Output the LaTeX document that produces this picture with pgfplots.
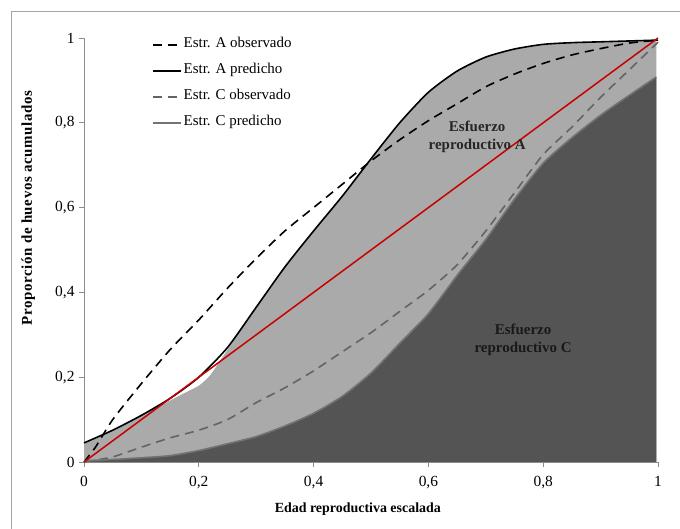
\documentclass[border=0pt]{standalone}
\usepackage{fontspec}
\setmainfont{Liberation Serif}
\newfontfamily\spacedserif[LetterSpace=4]{Liberation Serif}
\usepackage{pgfplots}
\pgfplotsset{compat=1.18}

\definecolor{areaA}{RGB}{170,170,170}
\definecolor{areaC}{RGB}{84,84,84}
\definecolor{lineC}{RGB}{115,115,115}
\definecolor{dashC}{RGB}{100,100,100}
\definecolor{diag}{RGB}{200,0,0}
\definecolor{framegray}{RGB}{165,165,165}
\definecolor{axisgray}{RGB}{140,140,140}

\begin{document}
\begin{tikzpicture}
\useasboundingbox (0bp,0bp) rectangle (680bp,529bp);
\fill[white] (0bp,0bp) rectangle (680bp,529bp);
\draw[framegray, line width=1bp] (11bp,0bp) -- (11bp,517bp) -- (680bp,517bp);
\begin{axis}[
  at={(84bp,67bp)}, anchor=south west,
  scale only axis, width=574bp, height=424bp,
  xmin=0, xmax=1, ymin=0, ymax=1,
  axis lines=left,
  axis line style={-, axisgray, line width=0.8bp},
  tick style={axisgray, line width=0.8bp},
  tick align=outside, major tick length=5bp,
  xtick={0,0.2,0.4,0.6,0.8,1},
  ytick={0,0.2,0.4,0.6,0.8,1},
  xticklabels={0,{0,2},{0,4},{0,6},{0,8},1},
  yticklabels={0,{0,2},{0,4},{0,6},{0,8},1},
  ticklabel style={font=\fontsize{15.5}{17}\selectfont},
  xticklabel style={yshift=-6bp},
  yticklabel style={xshift=-1bp},
  xlabel={Edad reproductiva escalada},
  ylabel={\spacedserif\bfseries Proporción de huevos acumulados},
  xlabel style={font=\fontsize{14}{16}\selectfont\bfseries,
    at={(axis description cs:0.477,-0.111)}, anchor=center},
  ylabel style={font=\fontsize{15}{16}\selectfont,
    at={(axis description cs:-0.097,0.599)}, anchor=center},
  legend style={at={(axis description cs:0.113,1.008)}, anchor=north west,
    draw=none, fill=none, font=\fontsize{15}{17}\selectfont,
    row sep=10bp,
    nodes={inner sep=2bp, text height=9bp, text depth=3bp}},
  legend cell align=left,
  legend image code/.code={\draw[#1] (0bp,0bp) -- (28bp,0bp);},
  clip=false,
]
% shaded region under strategy A
\addplot[draw=none, fill=areaA, smooth, tension=0.4, forget plot] coordinates {
  (0,0.045) (0.05,0.075) (0.1,0.11) (0.15,0.145) (0.18,0.166)
  (0.2,0.18) (0.22,0.205) (0.25,0.265) (0.3,0.365) (0.35,0.46)
  (0.4,0.545) (0.45,0.625) (0.5,0.715) (0.55,0.80) (0.6,0.872)
  (0.65,0.922) (0.7,0.955) (0.75,0.974) (0.8,0.985) (0.85,0.989)
  (0.9,0.991) (0.95,0.993) (0.997,0.995)} \closedcycle;
% shaded region under strategy C
\addplot[draw=none, fill=areaC, smooth, tension=0.4, forget plot] coordinates {
  (0,0.003) (0.05,0.006) (0.1,0.01) (0.15,0.015) (0.2,0.027)
  (0.25,0.043) (0.3,0.06) (0.35,0.085) (0.4,0.115) (0.45,0.155)
  (0.5,0.21) (0.55,0.28) (0.6,0.35) (0.65,0.44) (0.7,0.525)
  (0.75,0.62) (0.8,0.705) (0.85,0.765) (0.9,0.818) (0.95,0.865)
  (0.997,0.908)} \closedcycle;

\addplot[black, line width=1.6bp, dash pattern=on 9bp off 6bp, smooth, tension=0.4] coordinates {
  (0,0) (0.02,0.035) (0.05,0.10) (0.1,0.185) (0.15,0.265) (0.2,0.335)
  (0.25,0.41) (0.3,0.48) (0.35,0.545) (0.4,0.60) (0.45,0.655)
  (0.5,0.71) (0.55,0.76) (0.6,0.805) (0.65,0.845) (0.7,0.885)
  (0.75,0.915) (0.8,0.94) (0.85,0.96) (0.9,0.975) (0.95,0.988) (1,0.995)};
\addlegendentry{Estr. A observado}
\addplot[black, line width=1.6bp, smooth, tension=0.4] coordinates {
  (0,0.045) (0.05,0.075) (0.1,0.11) (0.15,0.15) (0.2,0.2)
  (0.25,0.27) (0.3,0.365) (0.35,0.46) (0.4,0.545) (0.45,0.627)
  (0.5,0.715) (0.55,0.80) (0.6,0.872) (0.65,0.922) (0.7,0.955)
  (0.75,0.974) (0.8,0.985) (0.85,0.989) (0.9,0.991) (0.95,0.993) (1,0.995)};
\addlegendentry{Estr. A predicho}
\addplot[dashC, line width=1.6bp, dash pattern=on 9bp off 6bp, smooth, tension=0.4] coordinates {
  (0,0) (0.05,0.012) (0.1,0.035) (0.15,0.057) (0.2,0.075) (0.25,0.10)
  (0.3,0.14) (0.35,0.175) (0.4,0.215) (0.45,0.26) (0.5,0.305)
  (0.55,0.355) (0.6,0.405) (0.65,0.465) (0.7,0.545) (0.75,0.635)
  (0.8,0.725) (0.85,0.79) (0.9,0.86) (0.95,0.925) (1,0.99)};
\addlegendentry{Estr. C observado}
\addplot[lineC, line width=1.6bp, smooth, tension=0.4] coordinates {
  (0,0.003) (0.05,0.006) (0.1,0.01) (0.15,0.015) (0.2,0.027)
  (0.25,0.043) (0.3,0.06) (0.35,0.085) (0.4,0.115) (0.45,0.155)
  (0.5,0.21) (0.55,0.28) (0.6,0.35) (0.65,0.44) (0.7,0.525)
  (0.75,0.62) (0.8,0.705) (0.85,0.765) (0.9,0.818) (0.95,0.865)
  (0.997,0.908)};
\addlegendentry{Estr. C predicho}
% reference diagonal
\addplot[diag, line width=1.5bp, forget plot] coordinates {(0,0) (1,1)};

\node[font=\fontsize{15}{18}\selectfont\bfseries, align=center, text=black!85]
  at (axis cs:0.685,0.767) {Esfuerzo\\reproductivo A};
\node[font=\fontsize{15}{18}\selectfont\bfseries, align=center, text=black!90]
  at (axis cs:0.765,0.288) {Esfuerzo\\reproductivo C};
\end{axis}
\end{tikzpicture}
\end{document}
